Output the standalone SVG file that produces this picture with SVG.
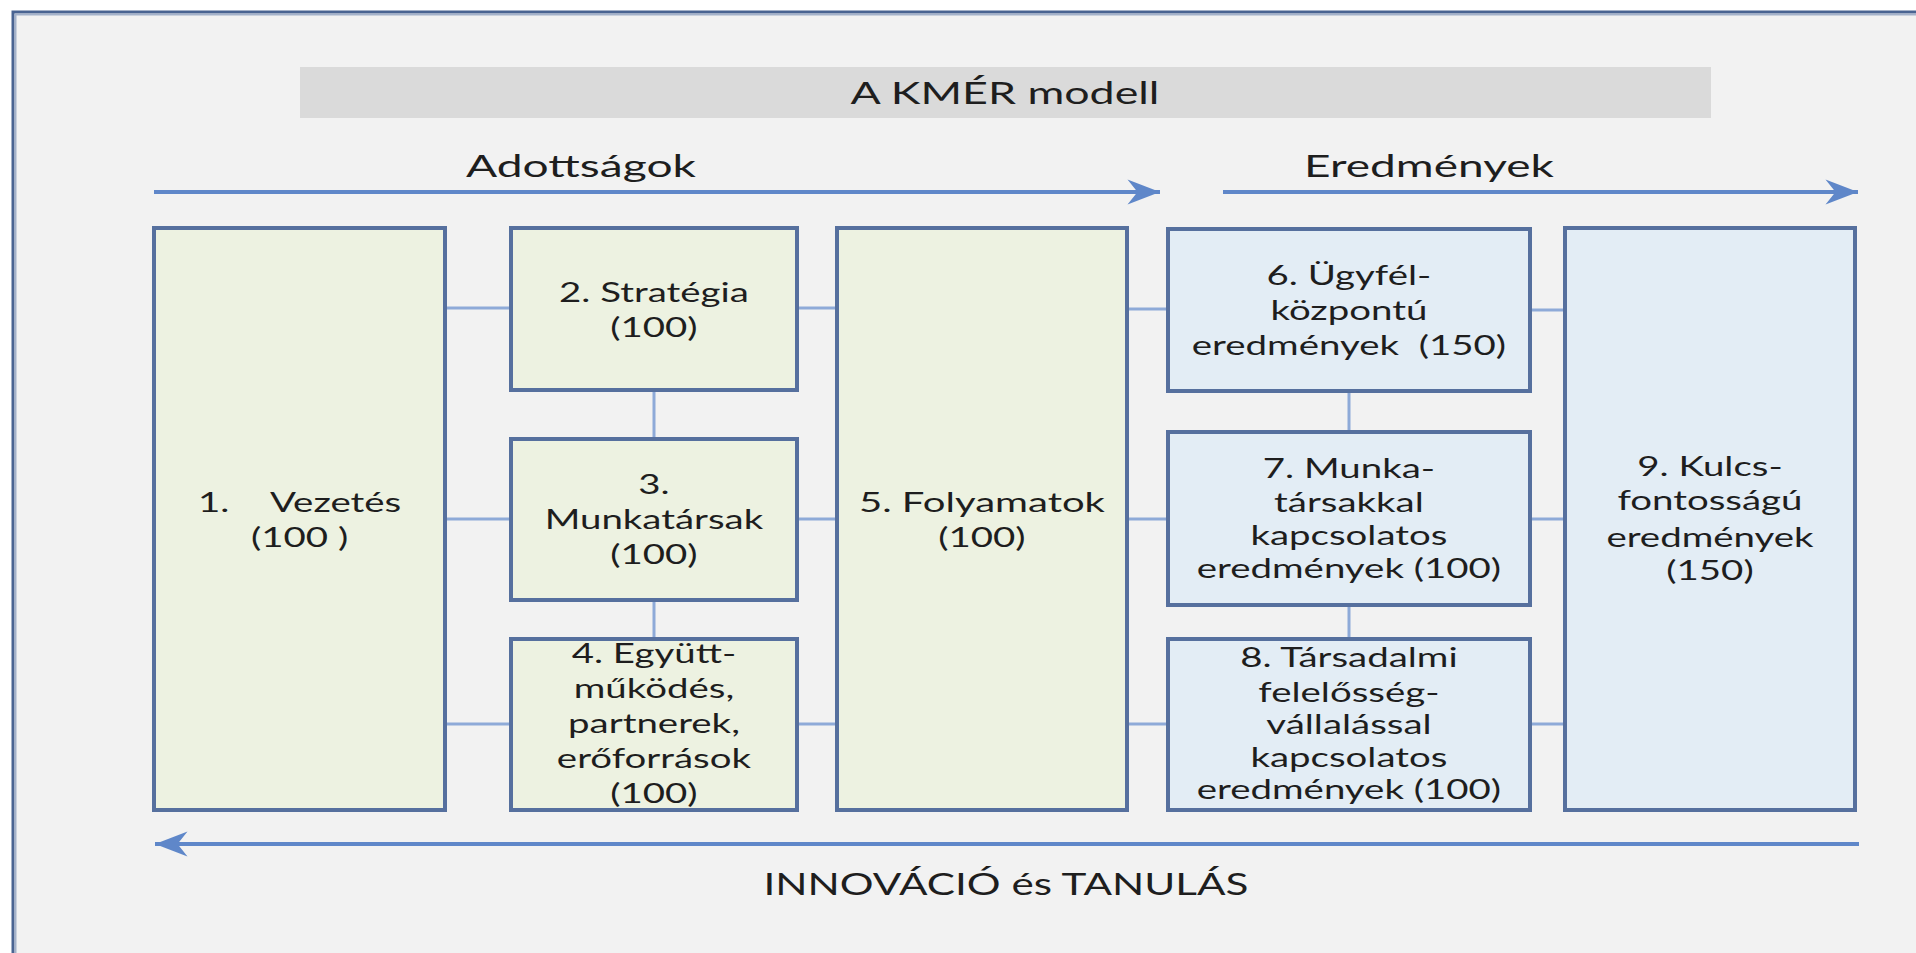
<svg xmlns="http://www.w3.org/2000/svg" width="1916" height="953" viewBox="0 0 1916 953">
<defs>
<style>
.box{stroke:#56709e;stroke-width:4}
.g{fill:#edf2e1}
.b{fill:#e3edf5}
.con{stroke:#8eaad8;stroke-width:3;fill:none}
.arr{stroke:#5f87c9;stroke-width:4;fill:none}
text{font-family:Lato,"Open Sans","Liberation Sans",sans-serif;fill:#1e1e1e}
.t{font-size:26.5px;text-anchor:middle}
.h{font-size:30px;text-anchor:middle}
</style>
<marker id="ah" markerUnits="userSpaceOnUse" markerWidth="40" markerHeight="30" viewBox="-30 -12 32 24" refX="0" refY="0" orient="auto">
<path d="M0,0 L-26,-10 L-18,0 L-26,10 Z" fill="#5f87c9"/>
</marker>
</defs>
<rect x="0" y="0" width="1916" height="953" fill="#ffffff"/>
<rect x="13" y="12" width="2000" height="2000" fill="#f2f2f2" stroke="#4a6492" stroke-width="3"/>
<rect x="15.5" y="14.5" width="2000" height="2000" fill="none" stroke="#a4b2ca" stroke-width="2"/>
<rect x="300" y="67" width="1411" height="51" fill="#dadada"/>

<g id="connectors">
<line class="con" x1="447" y1="308" x2="509" y2="308"/>
<line class="con" x1="799" y1="308" x2="835" y2="308"/>
<line class="con" x1="447" y1="519" x2="509" y2="519"/>
<line class="con" x1="799" y1="519" x2="835" y2="519"/>
<line class="con" x1="447" y1="724" x2="509" y2="724"/>
<line class="con" x1="799" y1="724" x2="835" y2="724"/>
<line class="con" x1="1129" y1="309" x2="1166" y2="309"/>
<line class="con" x1="1532" y1="310" x2="1563" y2="310"/>
<line class="con" x1="1129" y1="519" x2="1166" y2="519"/>
<line class="con" x1="1532" y1="519" x2="1563" y2="519"/>
<line class="con" x1="1129" y1="724" x2="1166" y2="724"/>
<line class="con" x1="1532" y1="724" x2="1563" y2="724"/>
<line class="con" x1="654" y1="392" x2="654" y2="437"/>
<line class="con" x1="654" y1="602" x2="654" y2="637"/>
<line class="con" x1="1349" y1="393" x2="1349" y2="430"/>
<line class="con" x1="1349" y1="607" x2="1349" y2="637"/>
<line class="arr" x1="154" y1="192" x2="1160" y2="192" marker-end="url(#ah)"/>
<line class="arr" x1="1223" y1="192" x2="1858" y2="192" marker-end="url(#ah)"/>
<line class="arr" x1="1859" y1="844" x2="155" y2="844" marker-end="url(#ah)"/>
</g>

<g id="n1"><rect class="box g" x="154" y="228" width="291" height="582"/></g>
<g id="n2"><rect class="box g" x="511" y="228" width="286" height="162"/></g>
<g id="n3"><rect class="box g" x="511" y="439" width="286" height="161"/></g>
<g id="n4"><rect class="box g" x="511" y="639" width="286" height="171"/></g>
<g id="n5"><rect class="box g" x="837" y="228" width="290" height="582"/></g>
<g id="n6"><rect class="box b" x="1168" y="229" width="362" height="162"/></g>
<g id="n7"><rect class="box b" x="1168" y="432" width="362" height="173"/></g>
<g id="n8"><rect class="box b" x="1168" y="639" width="362" height="171"/></g>
<g id="n9"><rect class="box b" x="1565" y="228" width="290" height="582"/></g>

<g id="labels" transform="scale(1.45,1)">
<text class="h" x="693.1" y="104" textLength="213" lengthAdjust="spacingAndGlyphs">A KMÉR modell</text>
<text class="h" x="400.7" y="177" textLength="158.6" lengthAdjust="spacingAndGlyphs">Adottságok</text>
<text class="h" x="985.5" y="177" textLength="172.4" lengthAdjust="spacingAndGlyphs">Eredmények</text>
<text class="h" x="693.8" y="895" textLength="334.5" lengthAdjust="spacingAndGlyphs">INNOVÁCIÓ és TANULÁS</text>

<text class="t" x="136.6" y="512" style="text-anchor:start">1.</text>
<text class="t" x="186.2" y="512" style="text-anchor:start">Vezetés</text>
<text class="t" x="206.6" y="547" xml:space="preserve">(100 )</text>

<text class="t" x="451" y="302">2. Stratégia</text>
<text class="t" x="451" y="337">(100)</text>

<text class="t" x="451" y="494">3.</text>
<text class="t" x="451" y="529">Munkatársak</text>
<text class="t" x="451" y="564">(100)</text>

<text class="t" x="451" y="663">4. Együtt-</text>
<text class="t" x="451" y="698">működés,</text>
<text class="t" x="451" y="733">partnerek,</text>
<text class="t" x="451" y="768">erőforrások</text>
<text class="t" x="451" y="803">(100)</text>

<text class="t" x="677.2" y="512" textLength="169.7" lengthAdjust="spacingAndGlyphs">5. Folyamatok</text>
<text class="t" x="677.2" y="547">(100)</text>

<text class="t" x="930.3" y="285">6. Ügyfél-</text>
<text class="t" x="930.3" y="320">központú</text>
<text class="t" x="930.3" y="355" xml:space="preserve">eredmények  (150)</text>

<text class="t" x="930.3" y="478">7. Munka-</text>
<text class="t" x="930.3" y="512">társakkal</text>
<text class="t" x="930.3" y="545">kapcsolatos</text>
<text class="t" x="930.3" y="578">eredmények (100)</text>

<text class="t" x="930.3" y="667">8. Társadalmi</text>
<text class="t" x="930.3" y="702">felelősség-</text>
<text class="t" x="930.3" y="734">vállalással</text>
<text class="t" x="930.3" y="767">kapcsolatos</text>
<text class="t" x="930.3" y="799">eredmények (100)</text>

<text class="t" x="1179.3" y="476">9. Kulcs-</text>
<text class="t" x="1179.3" y="510">fontosságú</text>
<text class="t" x="1179.3" y="547">eredmények</text>
<text class="t" x="1179.3" y="580">(150)</text>
</g>
</svg>
